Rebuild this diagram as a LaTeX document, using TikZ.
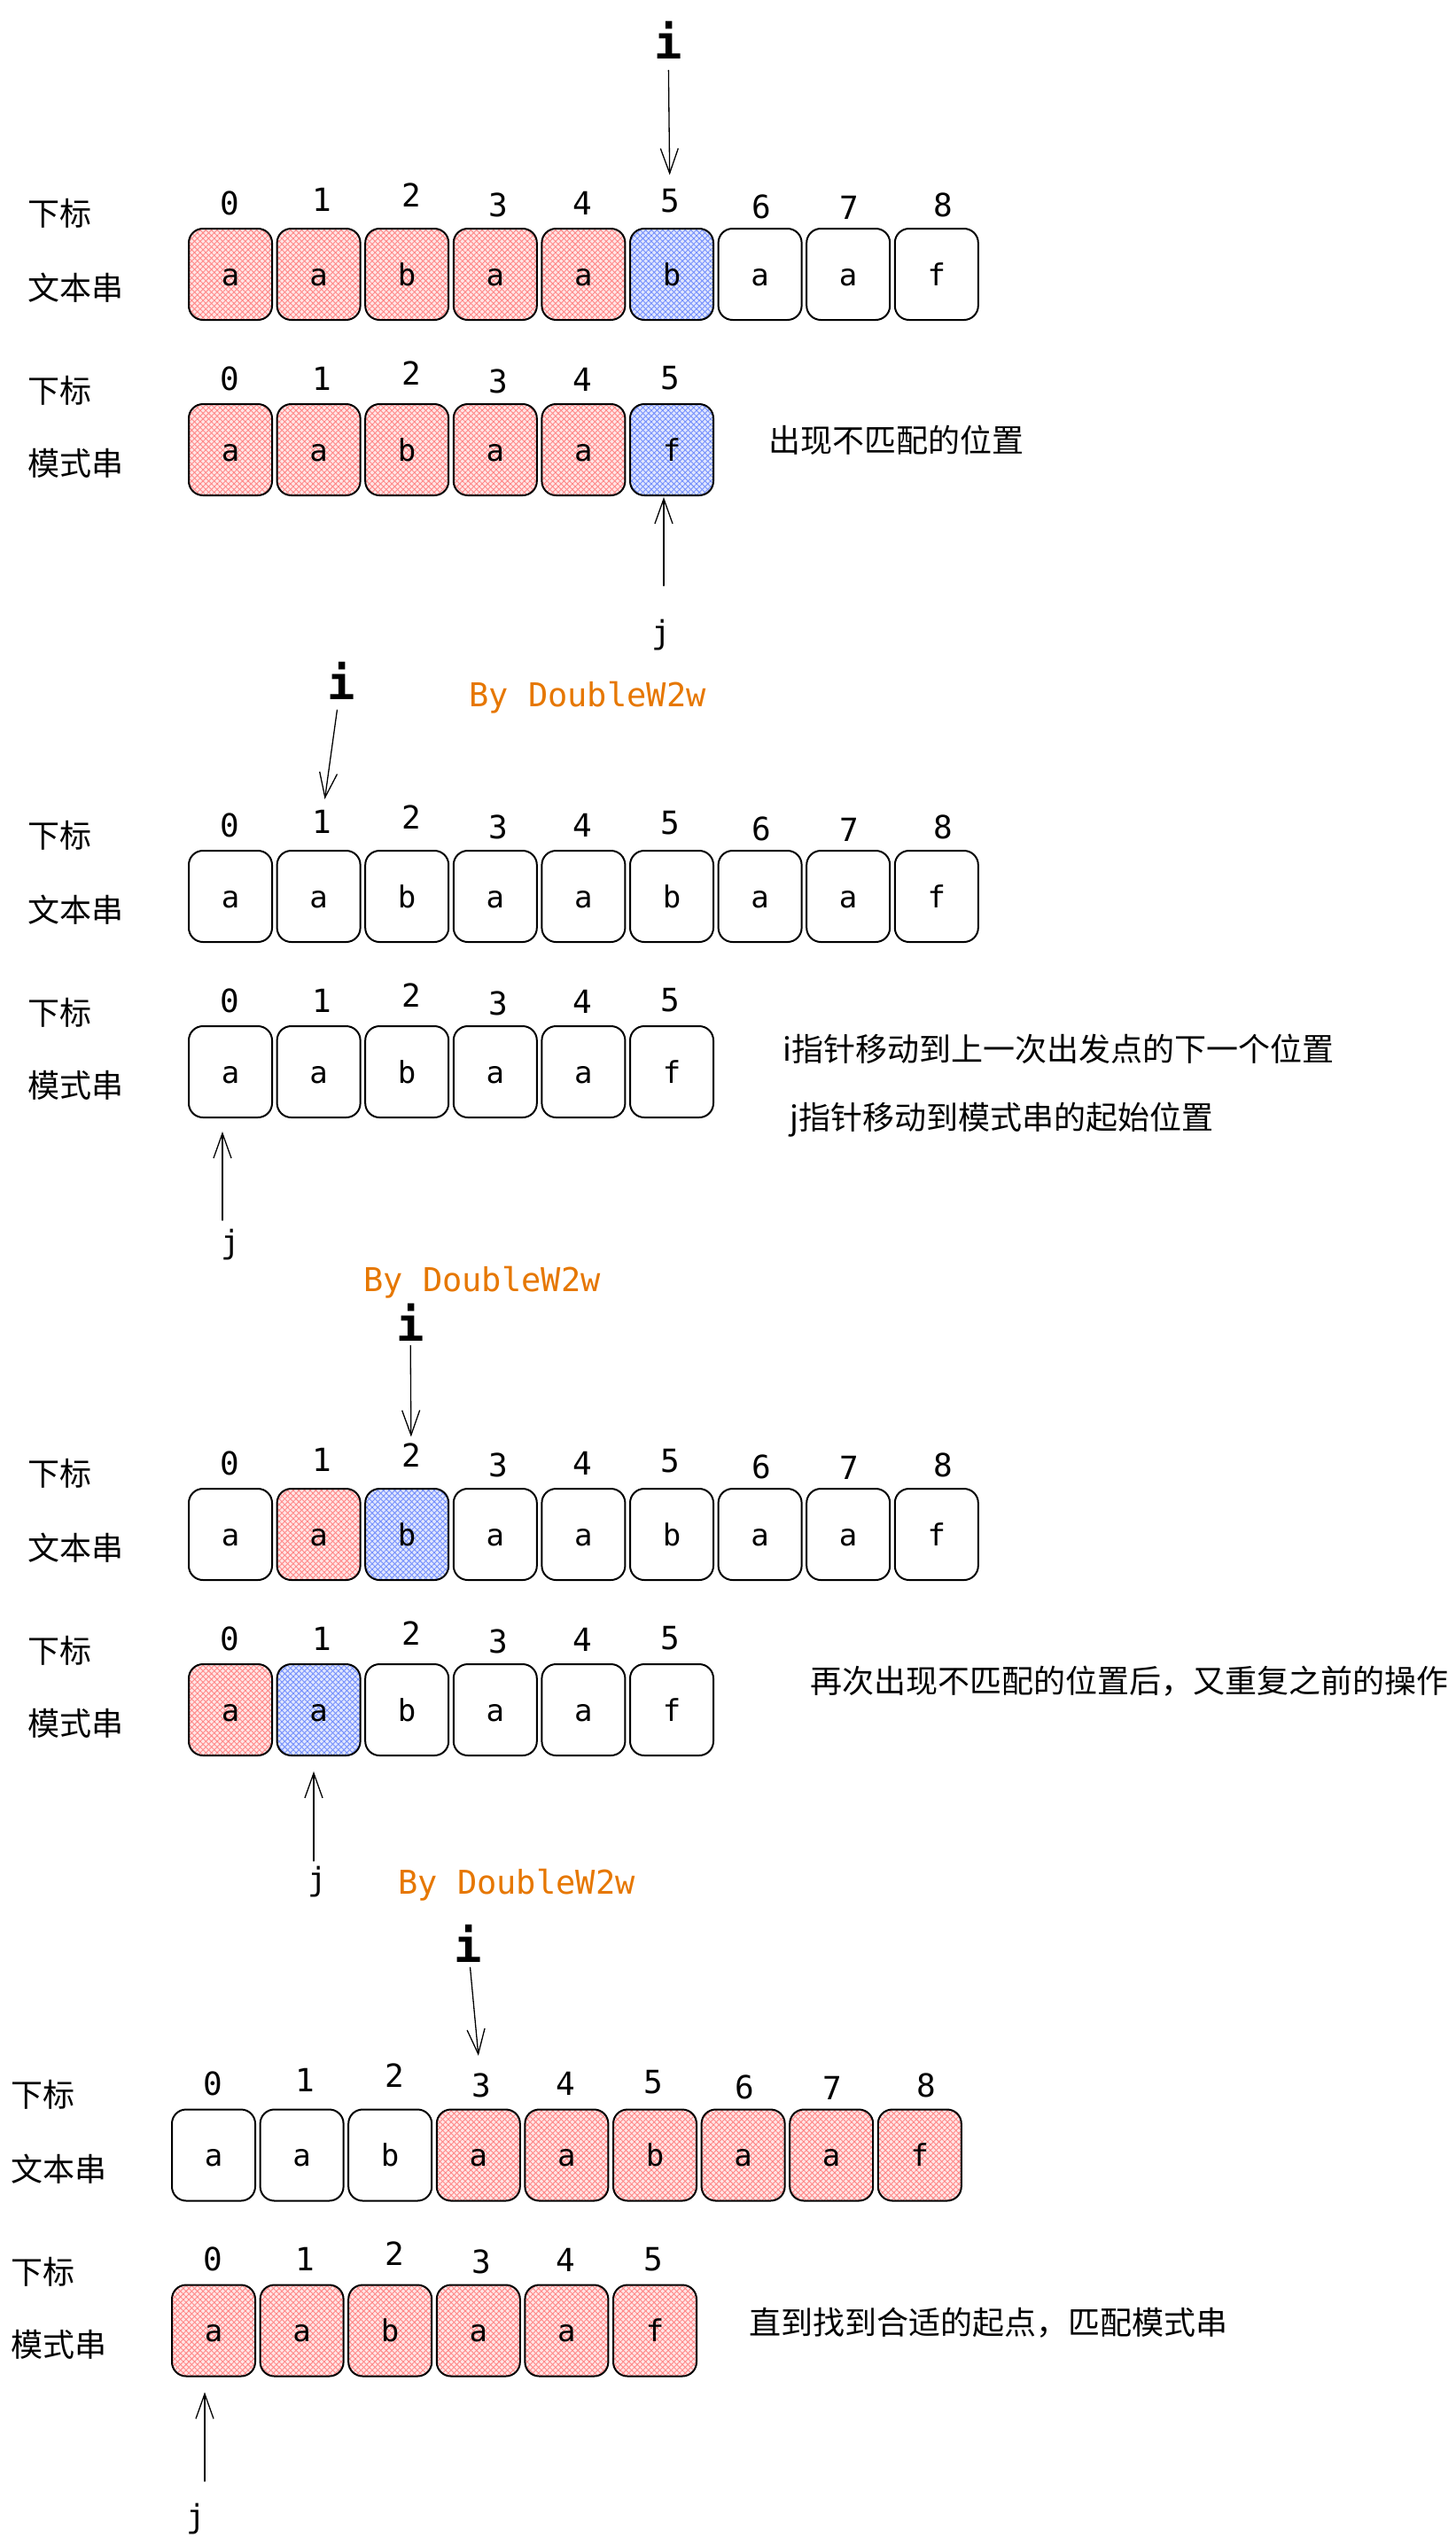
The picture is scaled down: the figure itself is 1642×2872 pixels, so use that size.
\documentclass[tikz,border=0pt]{standalone}
\usepackage{fontspec}
\newfontfamily\mono{DejaVu Sans Mono}
\newfontfamily\cjk{Noto Sans CJK SC}
\usetikzlibrary{arrows.meta,patterns.meta}
\definecolor{hred}{HTML}{FF8787}
\definecolor{hblue}{HTML}{748FFC}
\definecolor{sig}{HTML}{E67700}
\def\rowA{0/259/229,1/363/225,2/464/220,3/562/231,4/657/229,5/756/227,6/859/233,7/958/234,8/1064/231}
\def\rowB{0/259/427,1/363/427,2/464/421,3/562/430,4/657/428,5/756/427}
\begin{document}
\begin{tikzpicture}[x=1pt,y=-1pt,
  cell/.style={draw=black, line width=2pt, rounded corners=16pt, minimum width=94pt, minimum height=103pt,
    inner sep=0pt, text height=25pt, text depth=0pt, font=\mono\fontsize{34}{40}\selectfont},
  hatch/.style={preaction={fill=#1!22},
    preaction={pattern={Lines[angle=45,distance=4.5pt,line width=0.9pt]}, pattern color=#1},
    pattern={Lines[angle=-45,distance=4.5pt,line width=0.9pt]}, pattern color=#1},
  idx/.style={inner sep=0pt, font=\mono\fontsize{36}{40}\selectfont},
  lbl/.style={anchor=west, inner sep=0pt, font=\cjk\fontsize{36}{40}\selectfont},
  ilbl/.style={inner sep=0pt, font=\mono\bfseries\fontsize{52}{60}\selectfont},
  jlbl/.style={inner sep=0pt, font=\mono\fontsize{36}{40}\selectfont},
  sign/.style={anchor=base, inner sep=0pt, text=sig, font=\mono\fontsize{37}{42}\selectfont},
  ptr/.style={-{Straight Barb[length=28pt,width=20pt,line width=1.3pt]}, line width=1.3pt, line cap=round}
]
\fill[white] (0,0) rectangle (1642,2872);
\useasboundingbox (0,0) rectangle (1642,2872);

% ---------- section 1 ----------
\begin{scope}[shift={(0,0)}]
  \node[lbl] (s1l1) at (31,241) {下标};
  \node[lbl] (s1l2) at (31,325) {文本串};
  \node[lbl] (s1l3) at (31,441) {下标};
  \node[lbl] (s1l4) at (31,523) {模式串};
  \foreach \k/\x/\y in \rowA {\node[idx] (s1a\k) at (\x,\y) {\k};}
  \foreach \k/\x/\y in \rowB {\node[idx] (s1b\k) at (\x,\y) {\k};}
  \foreach \k/\ch/\c in {0/a/hred,1/a/hred,2/b/hred,3/a/hred,4/a/hred,5/b/hblue,6/a/white,7/a/white,8/f/white}
    {\node[cell,hatch=\c] (s1t\k) at ({260+99.6*\k},309.5) {\ch};}
  \foreach \k/\ch/\c in {0/a/hred,1/a/hred,2/b/hred,3/a/hred,4/a/hred,5/f/hblue}
    {\node[cell,hatch=\c] (s1p\k) at ({260+99.6*\k},507.5) {\ch};}
\end{scope}

% ---------- section 2 ----------
\begin{scope}[shift={(0,702)}]
  \node[lbl] (s2l1) at (31,241) {下标};
  \node[lbl] (s2l2) at (31,325) {文本串};
  \node[lbl] (s2l3) at (31,441) {下标};
  \node[lbl] (s2l4) at (31,523) {模式串};
  \foreach \k/\x/\y in \rowA {\node[idx] (s2a\k) at (\x,\y) {\k};}
  \foreach \k/\x/\y in \rowB {\node[idx] (s2b\k) at (\x,\y) {\k};}
  \foreach \k/\ch/\c in {0/a/white,1/a/white,2/b/white,3/a/white,4/a/white,5/b/white,6/a/white,7/a/white,8/f/white}
    {\node[cell,hatch=\c] (s2t\k) at ({260+99.6*\k},309.5) {\ch};}
  \foreach \k/\ch/\c in {0/a/white,1/a/white,2/b/white,3/a/white,4/a/white,5/f/white}
    {\node[cell,hatch=\c] (s2p\k) at ({260+99.6*\k},507.5) {\ch};}
\end{scope}

% ---------- section 3 ----------
\begin{scope}[shift={(0,1422)}]
  \node[lbl] (s3l1) at (31,241) {下标};
  \node[lbl] (s3l2) at (31,325) {文本串};
  \node[lbl] (s3l3) at (31,441) {下标};
  \node[lbl] (s3l4) at (31,523) {模式串};
  \foreach \k/\x/\y in \rowA {\node[idx] (s3a\k) at (\x,\y) {\k};}
  \foreach \k/\x/\y in \rowB {\node[idx] (s3b\k) at (\x,\y) {\k};}
  \foreach \k/\ch/\c in {0/a/white,1/a/hred,2/b/hblue,3/a/white,4/a/white,5/b/white,6/a/white,7/a/white,8/f/white}
    {\node[cell,hatch=\c] (s3t\k) at ({260+99.6*\k},309.5) {\ch};}
  \foreach \k/\ch/\c in {0/a/hred,1/a/hblue,2/b/white,3/a/white,4/a/white,5/f/white}
    {\node[cell,hatch=\c] (s3p\k) at ({260+99.6*\k},507.5) {\ch};}
\end{scope}

% ---------- section 4 ----------
\begin{scope}[shift={(-19,2122.5)}]
  \node[lbl] (s4l1) at (31,241) {下标};
  \node[lbl] (s4l2) at (31,325) {文本串};
  \node[lbl] (s4l3) at (31,441) {下标};
  \node[lbl] (s4l4) at (31,523) {模式串};
  \foreach \k/\x/\y in \rowA {\node[idx] (s4a\k) at (\x,\y) {\k};}
  \foreach \k/\x/\y in \rowB {\node[idx] (s4b\k) at (\x,\y) {\k};}
  \foreach \k/\ch/\c in {0/a/white,1/a/white,2/b/white,3/a/hred,4/a/hred,5/b/hred,6/a/hred,7/a/hred,8/f/hred}
    {\node[cell,hatch=\c] (s4t\k) at ({260+99.6*\k},309.5) {\ch};}
  \foreach \k/\ch/\c in {0/a/hred,1/a/hred,2/b/hred,3/a/hred,4/a/hred,5/f/hred}
    {\node[cell,hatch=\c] (s4p\k) at ({260+99.6*\k},507.5) {\ch};}
\end{scope}

% ---------- pointer labels ----------
\node[ilbl] (i1) at (754,45) {i};
\node[ilbl] (i2) at (385,768) {i};
\node[ilbl] (i3) at (463,1492) {i};
\node[ilbl] (i4) at (528,2193) {i};
\node[jlbl] (j1) at (746,717) {j};
\node[jlbl] (j2) at (260,1405) {j};
\node[jlbl] (j3) at (358,2124) {j};
\node[jlbl] (j4) at (221,2843) {j};

\draw[ptr, shorten <=13pt, shorten >=16pt] (i1) -- (s1a5);
\draw[ptr, shorten <=12pt, shorten >=12pt] (i2) -- (s2a1);
\draw[ptr, shorten <=5pt, shorten >=7pt] (i3) -- (s3a2);
\draw[ptr, shorten <=6pt, shorten >=20pt] (i4) -- (s4a3);

\coordinate (j1tail) at (749,661);
\coordinate (j2tail) at (251,1377);
\coordinate (j3tail) at (354,2100);
\coordinate (j4tail) at (231,2800);
\draw[ptr, shorten >=1pt] (j1tail) -- (j1tail |- s1p5.south);
\draw[ptr, shorten >=15pt] (j2tail) -- (j2tail |- s2p0.south);
\draw[ptr, shorten >=17pt] (j3tail) -- (j3tail |- s3p1.south);
\draw[ptr, shorten >=17pt] (j4tail) -- (j4tail |- s4p0.south);

% ---------- notes ----------
\node[lbl] (n1) at (867,497) {出现不匹配的位置};
\node[lbl] (n2) at (883,1184) {i指针移动到上一次出发点的下一个位置};
\node[lbl] (n3) at (891,1264) {j指针移动到模式串的起始位置};
\node[lbl] (n4) at (914,1897) {再次出现不匹配的位置后，又重复之前的操作};
\node[lbl] (n5) at (845,2621) {直到找到合适的起点，匹配模式串};

\node[sign] (by1) at (663,797) {By DoubleW2w};
\node[sign] (by2) at (544,1457) {By DoubleW2w};
\node[sign] (by3) at (583,2137) {By DoubleW2w};
\end{tikzpicture}
\end{document}
